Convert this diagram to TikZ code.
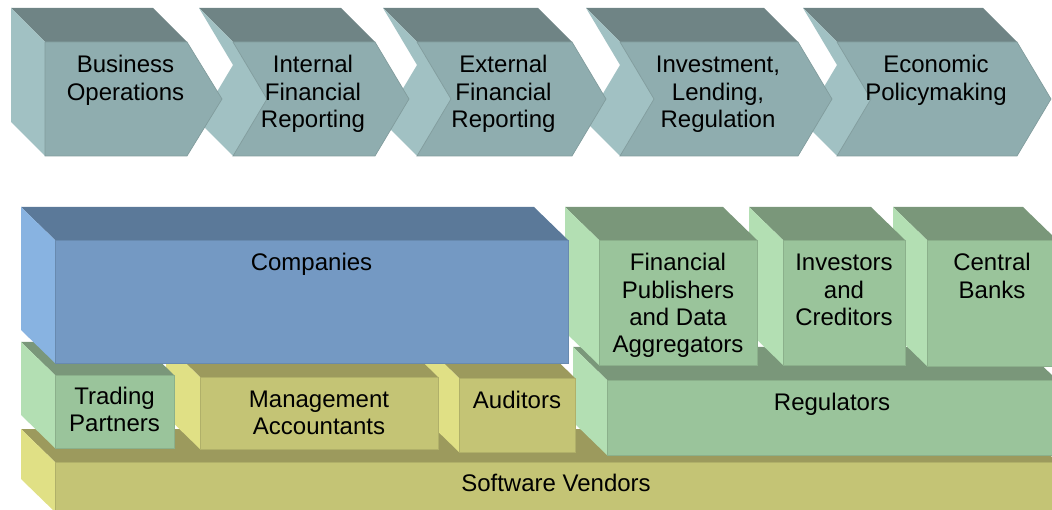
\documentclass[tikz,border=0pt]{standalone}
\usepackage{fontspec}
\setmainfont{Liberation Sans}
\definecolor{chF}{RGB}{143,173,175}
\definecolor{chT}{RGB}{111,132,133}
\definecolor{chL}{RGB}{161,193,195}
\definecolor{bF}{RGB}{116,153,195}
\definecolor{bT}{RGB}{91,121,153}
\definecolor{bL}{RGB}{136,179,225}
\definecolor{gF}{RGB}{154,196,155}
\definecolor{gT}{RGB}{122,151,122}
\definecolor{gL}{RGB}{179,223,179}
\definecolor{yF}{RGB}{196,196,117}
\definecolor{yT}{RGB}{156,154,93}
\definecolor{yL}{RGB}{224,224,133}
\newcommand\cubebox[7]{%
  \fill[#6] ({#1-34},{#2-33}) -- ({#3-34},{#2-33}) -- (#3,#2) -- (#1,#2) -- cycle;
  \fill[#7] ({#1-34},{#2-33}) -- (#1,#2) -- (#1,#4) -- ({#1-34},{#4-33}) -- cycle;
  \fill[#5, draw=#5!90!black, line width=0.7pt] (#1,#2) rectangle (#3,#4);}
\newcommand\chevron[3]{%
  \fill[chT] ({#1-34},8) -- ({#2-34},8) -- (#2,42) -- (#1,42) -- cycle;
  \fill[chL] ({#1-34},8) -- (#1,42) -- ({#1+34},99) -- (#1,156) -- ({#1-34},122) -- (#1,65) -- cycle;
  \fill[chF, draw=chF!90!black, line width=0.7pt] (#1,42) -- (#2,42) -- (#3,99) -- (#2,156) -- (#1,156) -- ({#1+34},99) -- cycle;}
\tikzset{lbl/.style={anchor=base, inner sep=0pt, text=black, font=\fontsize{24}{27.3}\selectfont}}
\newcommand\lines[1]{\parbox[t]{230pt}{\centering #1}}
\begin{document}
\begin{tikzpicture}[x=1pt,y=-1pt]
\useasboundingbox (0,0) rectangle (1052,510);
\clip (0,0) rectangle (1052,510);
% top chevrons (right to left)
\chevron{837}{1017}{1051}
\chevron{620}{798}{832}
\chevron{417}{572}{606}
\chevron{233}{375}{409}
\fill[chT] (11,8) -- (153,8) -- (187,42) -- (45,42) -- cycle;
\fill[chL] (11,8) -- (45,42) -- (45,156) -- (11,122) -- cycle;
\fill[chF, draw=chF!90!black, line width=0.7pt] (45,42) -- (187,42) -- (222,99) -- (187,156) -- (45,156) -- cycle;
\node[lbl] (c1) at (125.5,73) {\lines{Business\\Operations}};
\node[lbl] (c2) at (313,73) {\lines{Internal\\Financial\\Reporting}};
\node[lbl] (c3) at (503.5,73) {\lines{External\\Financial\\Reporting}};
\node[lbl] (c4) at (718,73) {\lines{Investment,\\Lending,\\Regulation}};
\node[lbl] (c5) at (936,73) {\lines{Economic\\Policymaking}};
% bottom layer
\cubebox{55}{462}{1057}{512}{yF}{yT}{yL}
% middle layer (right to left)
\cubebox{607}{380}{1057}{455}{gF}{gT}{gL}
\cubebox{459}{378}{575}{452}{yF}{yT}{yL}
\cubebox{200}{377}{438}{449}{yF}{yT}{yL}
\cubebox{55}{375}{174}{448}{gF}{gT}{gL}
% top layer (right to left)
\cubebox{927}{240}{1057}{366}{gF}{gT}{gL}
\cubebox{783}{240}{905}{365}{gF}{gT}{gL}
\cubebox{599}{240}{757}{365}{gF}{gT}{gL}
\cubebox{55}{240}{568}{363}{bF}{bT}{bL}
% labels
\node[lbl] (sv) at (556,491) {\lines{Software Vendors}};
\node[lbl] (reg) at (832,410) {\lines{Regulators}};
\node[lbl] (aud) at (517,408) {\lines{Auditors}};
\node[lbl] (ma) at (319,407) {\lines{Management\\Accountants}};
\node[lbl] (tp) at (114.5,404) {\lines{Trading\\Partners}};
\node[lbl] (cb) at (992,271) {\lines{Central\\Banks}};
\node[lbl] (ic) at (844,271) {\lines{Investors\\and\\Creditors}};
\node[lbl] (fp) at (678,271) {\lines{Financial\\Publishers\\and Data\\Aggregators}};
\node[lbl] (co) at (311.5,271) {\lines{Companies}};
\end{tikzpicture}
\end{document}
